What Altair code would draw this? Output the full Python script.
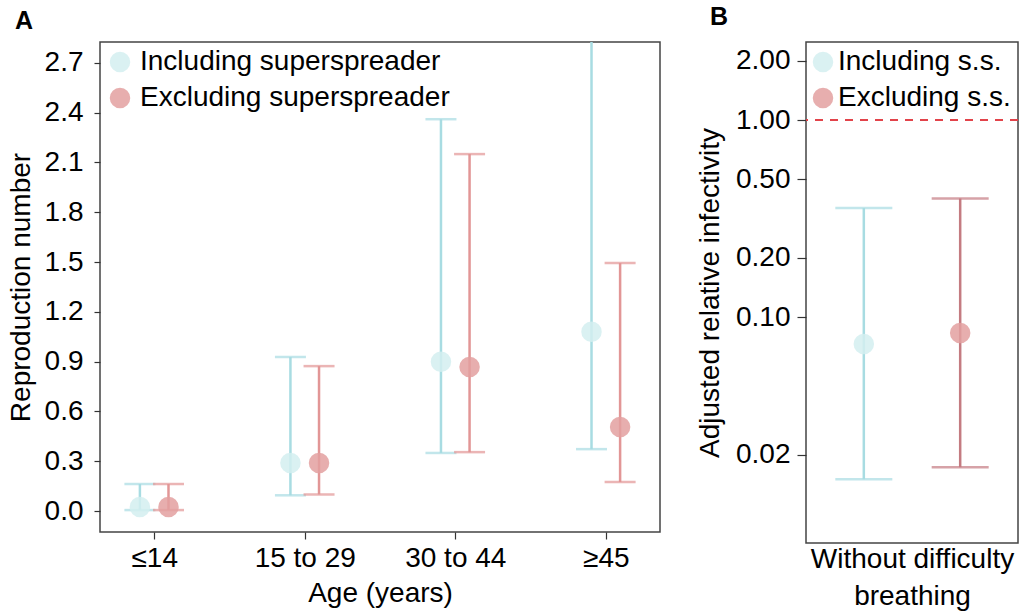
import altair as alt
import pandas as pd

# ---------------- data ----------------
age_groups = ["≤14", "15 to 29", "30 to 44", "≥45"]
series_a = ["Including superspreader", "Excluding superspreader"]
incl_est = [0.024, 0.29, 0.90, 1.08]
incl_lo = [0.006, 0.095, 0.35, 0.373]
incl_hi = [0.163, 0.928, 2.36, 3.20]
excl_est = [0.024, 0.29, 0.867, 0.506]
excl_lo = [0.006, 0.10, 0.355, 0.175]
excl_hi = [0.163, 0.873, 2.15, 1.494]

series_b = ["Including s.s.", "Excluding s.s."]
group_b = "Without difficulty breathing"
b_est = [0.073, 0.083]
b_lo = [0.015, 0.0173]
b_hi = [0.358, 0.40]

a_ticks = [0.0, 0.3, 0.6, 0.9, 1.2, 1.5, 1.8, 2.1, 2.4, 2.7]
b_ticks = [0.02, 0.1, 0.2, 0.5, 1.0, 2.0]
ref_line = [1.0]

# ---------------- tables ----------------
rows_a = []
for i, g in enumerate(age_groups):
    rows_a.append(dict(idx=i, group=g, series=series_a[0], est=incl_est[i], lo=incl_lo[i], hi=incl_hi[i]))
    rows_a.append(dict(idx=i, group=g, series=series_a[1], est=excl_est[i], lo=excl_lo[i], hi=excl_hi[i]))
df_a = pd.DataFrame(rows_a)

rows_b = []
for j, s in enumerate(series_b):
    rows_b.append(dict(idx=0, group=group_b, series=s, est=b_est[j], lo=b_lo[j], hi=b_hi[j]))
df_b = pd.DataFrame(rows_b)

FONT = "Liberation Sans"
FS = 28
blue_bar = "#a8dce2"
blue_pt = "#d3eef0"
red_bar_a = "#e29696"
red_bar_b = "#c47b81"
red_pt = "#e3a0a0"

# ---------------- panel A ----------------
label_expr = "[" + ",".join("'" + g + "'" for g in age_groups) + "][datum.value]"
xA = alt.X(
    "pos:Q",
    scale=alt.Scale(domain=[-0.36, 3.36], nice=False, zero=False),
    axis=alt.Axis(values=[0, 1, 2, 3], labelExpr=label_expr, title="Age (years)",
                  grid=False, domain=False, tickSize=7, labelPadding=5, titlePadding=7),
)
yA_scale = alt.Scale(domain=[-0.126, 2.825], nice=False, zero=False)
yA_axis = alt.Axis(values=a_ticks, format=".1f", title="Reproduction number", grid=False,
                   domain=False, tickSize=6, labelPadding=11, titlePadding=9)

baseA = alt.Chart(df_a).transform_calculate(
    pos=f"datum.idx + (datum.series == '{series_a[0]}' ? -0.095 : 0.095)"
)
barA_color = alt.Color("series:N", scale=alt.Scale(domain=series_a, range=[blue_bar, red_bar_a]), legend=None)

rulesA = baseA.mark_rule(strokeWidth=2.5, clip=True).encode(
    x=xA, y=alt.Y("lo:Q", scale=yA_scale, axis=yA_axis), y2="hi:Q", color=barA_color)
capLoA = baseA.mark_tick(orient="horizontal", size=31, thickness=2.5, clip=True).encode(
    x=xA, y=alt.Y("lo:Q", scale=yA_scale), color=barA_color)
capHiA = baseA.mark_tick(orient="horizontal", size=31, thickness=2.5, clip=True).encode(
    x=xA, y=alt.Y("hi:Q", scale=yA_scale), color=barA_color)
ptsA = baseA.mark_circle(size=420, opacity=0.85).encode(
    x=xA, y=alt.Y("est:Q", scale=yA_scale),
    color=alt.Color("series:N", scale=alt.Scale(domain=series_a, range=[blue_pt, red_pt]),
                    legend=alt.Legend(orient="none", legendX=6, legendY=6, title=None,
                                      symbolType="circle", symbolSize=420, symbolOpacity=0.85,
                                      symbolStrokeWidth=0, labelOffset=6, rowPadding=8,
                                      padding=0, labelLimit=0)),
)

panelA = alt.layer(rulesA, capLoA, capHiA, ptsA).resolve_scale(color="independent").properties(
    width=560, height=490,
    title=alt.TitleParams("A", anchor="start", frame="group", dx=-85, fontSize=25,
                          fontWeight="bold", offset=8),
)

# ---------------- panel B ----------------
xB = alt.X(
    "pos:Q",
    scale=alt.Scale(domain=[-2.2, 2.2], nice=False, zero=False),
    axis=alt.Axis(values=[0], labels=False, ticks=False, domain=False, grid=False,
                  title=["Without difficulty", "breathing"], titlePadding=2, titleLineHeight=37),
)
yB_scale = alt.Scale(type="log", domain=[0.00713, 2.49], nice=False)
yB_axis = alt.Axis(values=b_ticks, format=".2f", title="Adjusted relative infectivity", grid=False,
                   domain=False, tickSize=9, labelPadding=7, titlePadding=11)

baseB = alt.Chart(df_b).transform_calculate(
    pos=f"datum.idx + (datum.series == '{series_b[0]}' ? -1 : 1)"
)
barB_color = alt.Color("series:N", scale=alt.Scale(domain=series_b, range=[blue_bar, red_bar_b]), legend=None)

rulesB = baseB.mark_rule(strokeWidth=2.5, clip=True).encode(
    x=xB, y=alt.Y("lo:Q", scale=yB_scale, axis=yB_axis), y2="hi:Q", color=barB_color)
capLoB = baseB.mark_tick(orient="horizontal", size=57, thickness=2.5, clip=True).encode(
    x=xB, y=alt.Y("lo:Q", scale=yB_scale), color=barB_color)
capHiB = baseB.mark_tick(orient="horizontal", size=57, thickness=2.5, clip=True).encode(
    x=xB, y=alt.Y("hi:Q", scale=yB_scale), color=barB_color)
ptsB = baseB.mark_circle(size=420, opacity=0.85).encode(
    x=xB, y=alt.Y("est:Q", scale=yB_scale),
    color=alt.Color("series:N", scale=alt.Scale(domain=series_b, range=[blue_pt, red_pt]),
                    legend=alt.Legend(orient="none", legendX=3, legendY=6, title=None,
                                      symbolType="circle", symbolSize=420, symbolOpacity=0.85,
                                      symbolStrokeWidth=0, labelOffset=1, rowPadding=8,
                                      padding=0, labelLimit=0)),
)
refB = alt.Chart(pd.DataFrame({"ref": ref_line})).mark_rule(
    color="#e2434a", strokeWidth=2, strokeDash=[8, 7]).encode(
    y=alt.Y("ref:Q", scale=yB_scale))

panelB = alt.layer(refB, rulesB, capLoB, capHiB, ptsB).resolve_scale(color="independent").properties(
    width=212, height=501,
    title=alt.TitleParams("B", anchor="start", frame="group", dx=-96, fontSize=25,
                          fontWeight="bold", offset=12),
)

chart = alt.hconcat(panelA, panelB, spacing=34).resolve_scale(color="independent").properties(
    padding={"left": 6, "top": 4, "right": 2, "bottom": 2}
).configure(font=FONT).configure_axis(
    labelFont=FONT, titleFont=FONT, labelFontSize=FS, titleFontSize=FS, titleFontWeight="normal",
    labelColor="black", titleColor="black", tickColor="#333", tickWidth=1.2,
).configure_legend(
    labelFont=FONT, labelFontSize=FS, labelColor="black", labelLimit=0,
).configure_title(
    font=FONT, color="black",
).configure_view(
    stroke="#444", strokeWidth=1.5,
)

chart.save("out.html", embed_options={"renderer": "svg", "actions": False})
